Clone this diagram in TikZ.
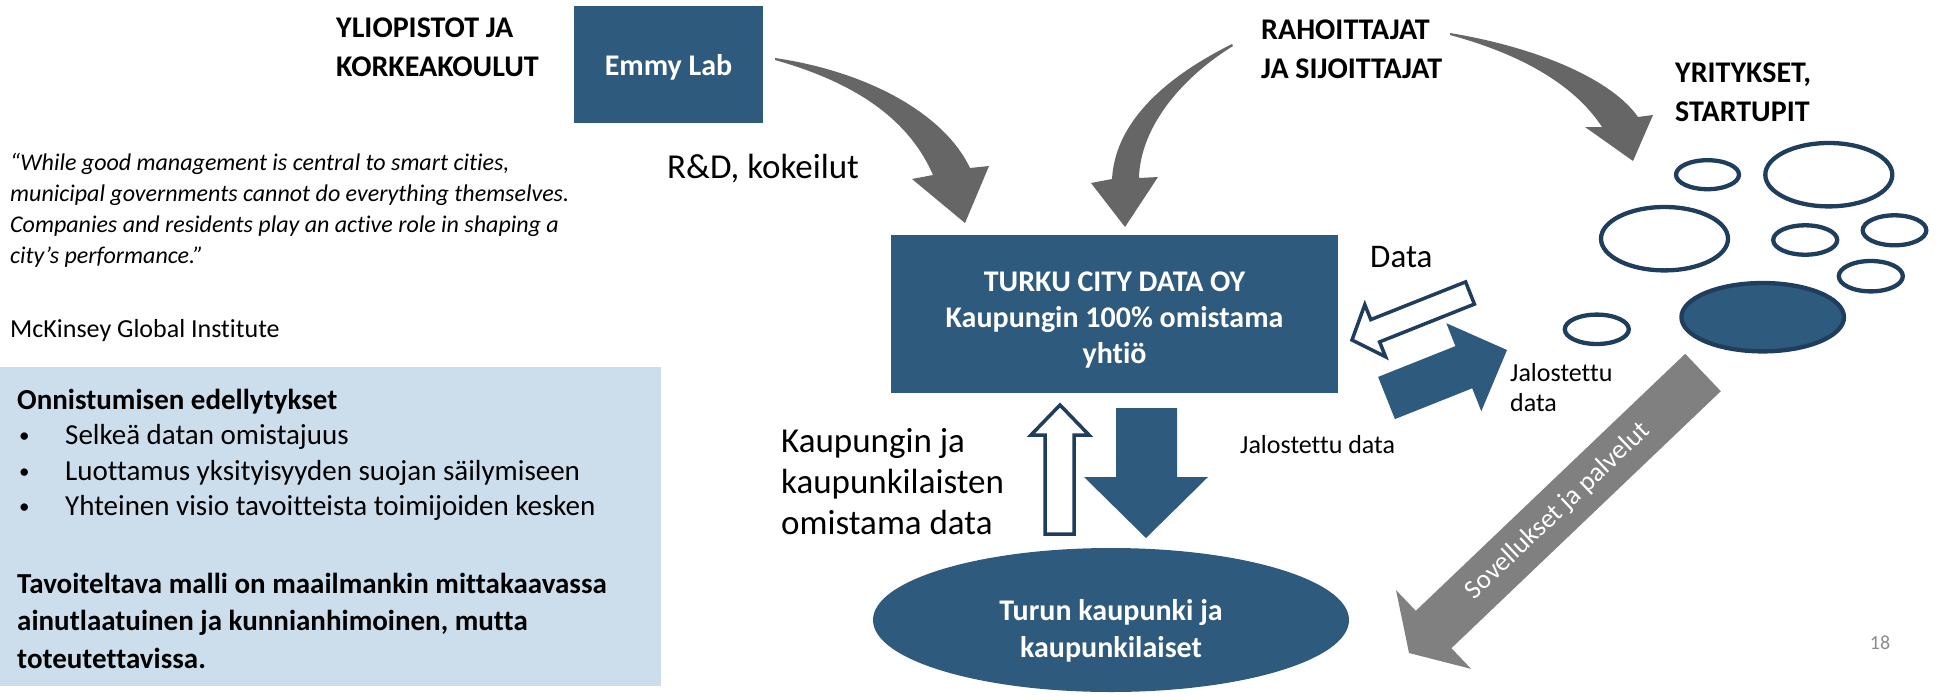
\documentclass[tikz,border=0pt]{standalone}
\usepackage{fontspec}
\setmainfont{Carlito}[Ligatures=NoCommon]
\usepackage{tikz}
\usetikzlibrary{positioning,calc,shapes.geometric}
\definecolor{tcdblue}{HTML}{2E5A7E}
\definecolor{tcdnavy}{HTML}{1F3D5C}
\definecolor{curvegrey}{HTML}{666666}
\definecolor{flatgrey}{HTML}{808080}
\definecolor{boxblue}{HTML}{CCDDEC}
\newcommand{\bul}{\makebox[48pt][l]{\hspace{2pt}\raisebox{2pt}{\fontsize{21}{21}\selectfont\textbullet}}}
\tikzset{
  plain/.style={inner sep=0pt, align=left, anchor=west, text=black},
  head/.style={plain, font=\bfseries\fontsize{30}{39}\selectfont},
  bluebox/.style={fill=tcdblue, draw=none, text=white, align=center, inner sep=0pt},
  whitetext/.style={text=white, align=center, inner sep=0pt},
  bubble/.style={draw=tcdnavy, line width=4.3pt},
  hollow/.style={draw=tcdnavy, fill=white, line width=3.5pt, line join=miter},
}

\begin{document}
\begin{tikzpicture}[x=1pt,y=-1pt]
\useasboundingbox (0,0) rectangle (1938,699);

\node[head] (yliopistot) at (336,47.5) {YLIOPISTOT JA\\KORKEAKOULUT};
\node[bluebox, minimum width=189pt, minimum height=117pt] (emmy) at (668.5,64.5) {};
\node[whitetext, font=\bfseries\fontsize{30}{36}\selectfont] (emmytxt) at (668.5,67) {Emmy Lab};
\node[head] (rahoittajat) at (1261,49.5) {RAHOITTAJAT\\JA SIJOITTAJAT};
\node[head] (yritykset) at (1675,92.5) {YRITYKSET,\\STARTUPIT};
\node[plain, font=\fontsize{35}{41}\selectfont] (rd) at (667,169) {R\&D, kokeilut};

\node[plain, font=\itshape\fontsize{24}{31}\selectfont] (quote) at (10,210.5) {``While good management is central to smart cities,\\municipal governments cannot do everything themselves.\\Companies and residents play an active role in shaping a\\city’s performance.''};
\node[plain, font=\fontsize{26}{31}\selectfont] (mckinsey) at (10,331) {McKinsey Global Institute};

\fill[boxblue] (0,367) rectangle (661,686);
\node[plain, font=\fontsize{29}{35.5}\selectfont] (ehdot) at (17,455) {\textbf{Onnistumisen edellytykset}\\\bul Selkeä datan omistajuus\\\bul Luottamus yksityisyyden suojan säilymiseen\\\bul Yhteinen visio tavoitteista toimijoiden kesken};
\node[plain, font=\bfseries\fontsize{29}{37.5}\selectfont] (tavoite) at (17,620.5) {Tavoiteltava malli on maailmankin mittakaavassa\\ainutlaatuinen ja kunnianhimoinen, mutta\\toteutettavissa.};

\node[bluebox, minimum width=447pt, minimum height=158pt] (tcd) at (1114.5,314) {};
\node[whitetext, font=\bfseries\fontsize{30}{36}\selectfont] (tcdtxt) at (1114.5,320) {TURKU CITY DATA OY\\Kaupungin 100\% omistama\\yhtiö};
\node[bluebox, ellipse, minimum width=476pt, minimum height=144pt] (turku) at (1111,620) {};
\node[whitetext, font=\bfseries\fontsize{30}{37}\selectfont] (turkutxt) at (1111,631) {Turun kaupunki ja\\kaupunkilaiset};

\fill[curvegrey] (775,58) .. controls (870,72) and (945,115) .. (970,168) -- (989,166) -- (965,223) -- (912,179) -- (933,175) .. controls (910,122) and (860,84) .. (775,60) -- cycle;
\fill[curvegrey] (1232,44) .. controls (1160,80) and (1115,125) .. (1112,179) -- (1091,183) -- (1125,227) -- (1158,177) -- (1139,178) .. controls (1140,132) and (1175,82) .. (1233,46) -- cycle;
\fill[curvegrey] (1450,33) .. controls (1540,48) and (1612,80) .. (1638,117) -- (1653,115) -- (1633,161) -- (1585,127) -- (1602,127) .. controls (1580,93) and (1535,58) .. (1450,35) -- cycle;

\draw[bubble] (1707.5,174.7) ellipse [x radius=31.5, y radius=14.5];
\draw[bubble] (1828.8,174.7) ellipse [x radius=63.5, y radius=31.7];
\draw[bubble] (1664.5,238.7) ellipse [x radius=63.5, y radius=31.7];
\draw[bubble] (1805.2,240) ellipse [x radius=32, y radius=14.7];
\draw[bubble] (1894.5,230.3) ellipse [x radius=31.8, y radius=15];
\draw[bubble] (1870.8,276.2) ellipse [x radius=32, y radius=15.2];
\draw[bubble, fill=tcdblue] (1762.7,317.2) ellipse [x radius=81.3, y radius=34.2];
\draw[bubble] (1596.8,329.3) ellipse [x radius=32, y radius=14.7];

\node[plain, font=\fontsize{33}{40}\selectfont] (data) at (1370,257) {Data};
\draw[hollow] (1465.6,281.9) -- (1370.8,319.6) -- (1364.8,304.7) -- (1352,340) -- (1385.6,356.8) -- (1379.6,341.9) -- (1474.4,304.1) -- cycle;
\fill[tcdblue] (1378.1,376.9) -- (1455.4,346.1) -- (1446.3,323.2) -- (1507,350) -- (1481.3,411.2) -- (1472.2,388.3) -- (1394.9,419.1) -- cycle;
\node[plain, font=\fontsize{26}{30}\selectfont] (jalo1) at (1510,388) {Jalostettu\\data};

\draw[hollow] (1045,534) -- (1045,435) -- (1031,435) -- (1060,405) -- (1089,435) -- (1074,435) -- (1074,534) -- cycle;
\fill[tcdblue] (1116,408) -- (1177,408) -- (1177,477) -- (1208,477) -- (1146,538) -- (1084,477) -- (1116,477) -- cycle;
\node[plain, font=\fontsize{35}{41}\selectfont] (omistama) at (781,482) {Kaupungin ja\\kaupunkilaisten\\omistama data};
\node[plain, font=\fontsize{26}{30}\selectfont] (jalo2) at (1240,445) {Jalostettu data};

\fill[flatgrey] (1685.2,353.8) -- (1415.8,610.8) -- (1396,590.1) -- (1409,653) -- (1471.2,668.9) -- (1451.4,648.2) -- (1720.8,391.2) -- cycle;
\node[rotate=43.65, text=white, inner sep=0pt, font=\fontsize{27}{30}\selectfont] (sovellukset) at (1558,511) {Sovellukset ja palvelut};

\node[text=black!45, inner sep=0pt, font=\fontsize{20}{24}\selectfont] (sivu) at (1880,643) {18};
\end{tikzpicture}
\end{document}
